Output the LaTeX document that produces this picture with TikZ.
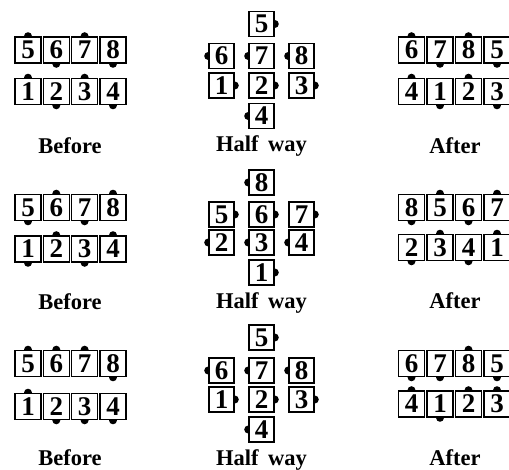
\documentclass[tikz,border=0pt]{standalone}
\usepackage{fontspec}
\setmainfont{Liberation Serif}
\usetikzlibrary{backgrounds}
\tikzset{
  bx/.style={draw, fill=white, line width=1.6pt, minimum width=26pt, minimum height=26pt,
    inner sep=0pt, font=\fontsize{27}{27}\selectfont\bfseries},
  hbx/.style={bx, minimum width=25pt, minimum height=25pt},
  lbl/.style={anchor=base, font=\fontsize{22.5}{22.5}\selectfont\bfseries},
  knob/.style={fill=black}
}
\newcommand\mybox[6]{% style, name, x, y, text, anchor
  \node[#1] (#2) at (#3,#4) {#5};
  \begin{pgfonlayer}{background}\fill[knob] (#2.#6) circle (4pt);\end{pgfonlayer}
}
\begin{document}
\begin{tikzpicture}[x=1pt,y=-1pt]
\useasboundingbox (0,0) rectangle (509,470);
\clip (0,0) rectangle (509,470);
% ---------- Panel row 1 ----------
\foreach \t/\x/\y/\a in {5/28/50/north,6/56.3/50/south,7/84.6/50/north,8/113/50/south,
                          1/28/91.5/north,2/56.3/91.5/south,3/84.6/91.5/north,4/113/91.5/south}
  {\mybox{bx}{ba\t}{\x}{\y}{\t}{\a}}
\foreach \t/\x/\y/\a in {5/261.5/24/east,6/221.5/56/west,7/261.5/56/west,8/301.5/56/west,
                          1/221.5/85.5/east,2/261.5/85.5/east,3/301.5/85.5/east,4/261.5/116/west}
  {\mybox{hbx}{ha\t}{\x}{\y}{\t}{\a}}
\foreach \t/\x/\y/\a in {6/411.5/50/north,7/440/50/south,8/468.5/50/north,5/497/50/south,
                          4/411.5/91.5/north,1/440/91.5/south,2/468.5/91.5/north,3/497/91.5/south}
  {\mybox{bx}{aa\t}{\x}{\y}{\t}{\a}}
\node[lbl] (lba) at (70,154) {Before};
\node[lbl] (lha) at (261.5,152) {Half\, way};
\node[lbl] (laa) at (455,154) {After};
% ---------- Panel row 2 ----------
\foreach \t/\x/\y/\a in {5/28/207.5/south,6/56.3/207.5/north,7/84.6/207.5/south,8/113/207.5/north,
                          1/28/249/south,2/56.3/249/north,3/84.6/249/south,4/113/249/north}
  {\mybox{bx}{bb\t}{\x}{\y}{\t}{\a}}
\foreach \t/\x/\y/\a in {8/261.5/182.5/west,5/221.5/214.5/east,6/261.5/214.5/east,7/301.5/214.5/east,
                          2/221.5/242.5/west,3/261.5/242.5/west,4/301.5/242.5/west,1/261.5/272.5/east}
  {\mybox{hbx}{hb\t}{\x}{\y}{\t}{\a}}
\foreach \t/\x/\y/\a in {8/411.5/207.5/south,5/440/207.5/north,6/468.5/207.5/south,7/497/207.5/north,
                          2/411.5/247.5/south,3/440/247.5/north,4/468.5/247.5/south,1/497/247.5/north}
  {\mybox{bx}{ab\t}{\x}{\y}{\t}{\a}}
\node[lbl] (lbb) at (70,310) {Before};
\node[lbl] (lhb) at (261.5,309) {Half\, way};
\node[lbl] (lab) at (455,309) {After};
% ---------- Panel row 3 ----------
\foreach \t/\x/\y/\a in {5/28/363.5/north,6/56.3/363.5/north,7/84.6/363.5/north,8/113/363.5/south,
                          1/28/406.5/north,2/56.3/406.5/south,3/84.6/406.5/south,4/113/406.5/south}
  {\mybox{bx}{bc\t}{\x}{\y}{\t}{\a}}
\foreach \t/\x/\y/\a in {5/261.5/337.5/east,6/221.5/370.5/west,7/261.5/370.5/west,8/301.5/370.5/west,
                          1/221.5/399.5/east,2/261.5/399.5/east,3/301.5/399.5/east,4/261.5/429.5/west}
  {\mybox{hbx}{hc\t}{\x}{\y}{\t}{\a}}
\foreach \t/\x/\y/\a in {6/411.5/363.5/south,7/440/363.5/south,8/468.5/363.5/north,5/497/363.5/south,
                          4/411.5/404/north,1/440/404/south,2/468.5/404/north,3/497/404/north}
  {\mybox{bx}{ac\t}{\x}{\y}{\t}{\a}}
\node[lbl] (lbc) at (70,465) {Before};
\node[lbl] (lhc) at (261.5,465) {Half\, way};
\node[lbl] (lac) at (455,465) {After};
\end{tikzpicture}
\end{document}
